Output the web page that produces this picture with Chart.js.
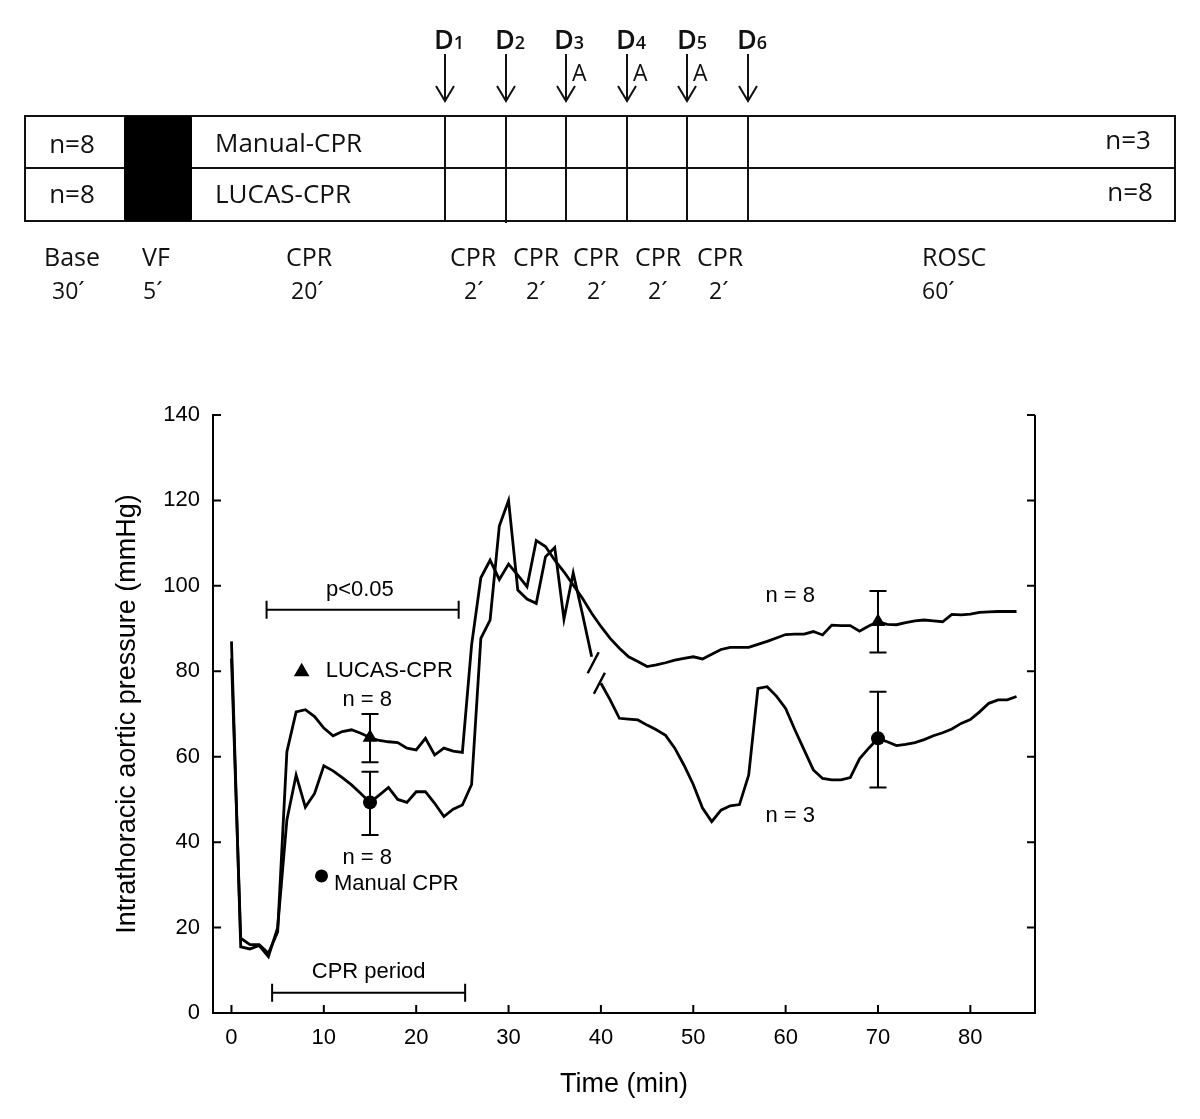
<!DOCTYPE html>
<html>
<head>
<meta charset="utf-8">
<title>Intrathoracic aortic pressure – Manual vs LUCAS CPR</title>
<script src="https://cdn.jsdelivr.net/npm/chart.js@4.4.1/dist/chart.umd.min.js"></script>
<style>
    html, body { margin: 0; padding: 0; background: #fff; }
    #wrap { position: relative; width: 1200px; height: 1119px; overflow: hidden; }
    #pressureChart { position: absolute; left: 0; top: 0; }
    #protocol { position: absolute; left: 0; top: 0; }
    #protocol text { font-family: 'Open Sans', 'Noto Sans', sans-serif; fill: #111; }
</style>
</head>
<body>
<div id="wrap">
    <canvas id="pressureChart" width="1200" height="1119"></canvas>

    <!-- study protocol schematic -->
    <svg id="protocol" width="1200" height="320" xmlns="http://www.w3.org/2000/svg">
        <g stroke="#111" stroke-width="2" fill="none">
            <rect x="25" y="116" width="1150" height="105"/>
            <line x1="25" y1="168" x2="1175" y2="168"/>
            <line x1="445" y1="116" x2="445" y2="221"/>
            <line x1="506" y1="116" x2="506" y2="223"/>
            <line x1="566" y1="116" x2="566" y2="221"/>
            <line x1="627" y1="116" x2="627" y2="221"/>
            <line x1="687" y1="116" x2="687" y2="221"/>
            <line x1="748" y1="116" x2="748" y2="221"/>
            <path d="M445 54 V101 M436 86 L445 101 L454 86"/>
            <path d="M506 54 V101 M497 86 L506 101 L515 86"/>
            <path d="M566 54 V101 M557 86 L566 101 L575 86"/>
            <path d="M627 54 V101 M618 86 L627 101 L636 86"/>
            <path d="M687 54 V101 M678 86 L687 101 L696 86"/>
            <path d="M748 54 V101 M739 86 L748 101 L757 86"/>
        </g>
        <rect x="124" y="116" width="68" height="105" rx="2" fill="#000"/>

        <g font-size="26">
            <text x="72" y="153" text-anchor="middle">n=8</text>
            <text x="72" y="203" text-anchor="middle">n=8</text>
            <text x="215" y="152">Manual-CPR</text>
            <text x="215" y="203">LUCAS-CPR</text>
            <text x="1151" y="149" text-anchor="end">n=3</text>
            <text x="1153" y="201" text-anchor="end">n=8</text>
        </g>

        <g font-size="27" font-weight="600">
            <text x="434" y="49">D<tspan font-size="18">1</tspan></text>
            <text x="495" y="49">D<tspan font-size="18">2</tspan></text>
            <text x="554" y="49">D<tspan font-size="18">3</tspan></text>
            <text x="616" y="49">D<tspan font-size="18">4</tspan></text>
            <text x="677" y="49">D<tspan font-size="18">5</tspan></text>
            <text x="737" y="49">D<tspan font-size="18">6</tspan></text>
        </g>
        <g font-size="23">
            <text x="572" y="81">A</text>
            <text x="633" y="81">A</text>
            <text x="693" y="81">A</text>
        </g>

        <g font-size="25">
            <text x="72" y="266" text-anchor="middle">Base</text>
            <text x="142" y="266">VF</text>
            <text x="309" y="266" text-anchor="middle">CPR</text>
            <text x="450" y="266">CPR</text>
            <text x="513" y="266">CPR</text>
            <text x="573" y="266">CPR</text>
            <text x="635" y="266">CPR</text>
            <text x="697" y="266">CPR</text>
            <text x="922" y="266">ROSC</text>
        </g>
        <g font-size="23">
            <text x="52" y="299">30´</text>
            <text x="143" y="299">5´</text>
            <text x="291" y="299">20´</text>
            <text x="464" y="299">2´</text>
            <text x="526" y="299">2´</text>
            <text x="587" y="299">2´</text>
            <text x="648" y="299">2´</text>
            <text x="709" y="299">2´</text>
            <text x="922" y="299">60´</text>
        </g>
    </svg>
</div>

<script>
// --- 1. DATA ---
const minutes = [
    0, 1, 2, 3, 4, 5, 6, 7, 8, 9, 10, 11, 12, 13, 14, 15, 16, 17, 18, 19,
    20, 21, 22, 23, 24, 25, 26, 27, 28, 29, 30, 31, 32, 33, 34, 35, 36, 37, 38, 39,
    40, 41, 42, 43, 44, 45, 46, 47, 48, 49, 50, 51, 52, 53, 54, 55, 56, 57, 58, 59,
    60, 61, 62, 63, 64, 65, 66, 67, 68, 69, 70, 71, 72, 73, 74, 75, 76, 77, 78, 79,
    80, 81, 82, 83, 84, 85
];

const lucasPressure = [
    83, 17.5, 16, 16, 14, 19, 61.2, 70.5, 71, 69.4, 66.7, 64.9, 65.9, 66.3, 65.5, 64.5, 63.8, 63.5, 63.3, 62,
    61.6, 64.3, 60.4, 62, 61.3, 61, 86.2, 101.9, 106, 101.5, 105.1, 102.5, 99.8, 110.6, 109.2, 106, 103.3, 100.2, 97.1, 93.6,
    90.5, 87.7, 85.4, 83.4, 82.3, 81.1, 81.5, 82, 82.6, 83, 83.4, 82.9, 84, 85.1, 85.6, 85.6, 85.6, 86.3, 87, 87.8,
    88.6, 88.7, 88.7, 89.3, 88.5, 90.8, 90.7, 90.7, 89.4, 90.6, 91.6, 91, 90.9, 91.4, 91.8, 92, 91.8, 91.6, 93.3, 93.2,
    93.4, 93.8, 93.9, 94, 94, 94
];

const manualPressure = [
    87, 15.5, 15, 15.8, 13.2, 20, 45.2, 55.7, 48.2, 51.4, 57.9, 56.7, 55.1, 53.4, 51.4, 49.3, 51, 52.8, 50, 49.3,
    51.8, 51.8, 49.1, 46, 47.7, 48.7, 53.5, 87.7, 92, 114, 120, 99, 96.9, 95.9, 106.8, 109, 92.2, 103, 93.4, 83.4,
    77.2, 73.3, 69, 68.8, 68.6, 67.4, 66.3, 65, 62, 58, 53.5, 48, 44.8, 47.5, 48.5, 48.8, 55.7, 76, 76.4, 74.2,
    71.3, 66.3, 61.6, 56.9, 54.9, 54.6, 54.6, 55.1, 59.5, 62, 64.3, 63.5, 62.6, 62.9, 63.3, 64, 64.9, 65.6, 66.5, 67.8,
    68.7, 70.5, 72.5, 73.3, 73.3, 74.1
];

// manual curve is interrupted between these two samples (axis break)
const manualBreakAfter = 39;

// mean +/- SD shown at two time points
const sampleTimes = [15, 70];
const lucasMean = [64.5, 91.6];
const lucasUpper = [70, 98.8];
const lucasLower = [58.7, 84.4];
const manualMean = [49.3, 64.3];
const manualUpper = [56.5, 75.2];
const manualLower = [41.7, 52.8];

const xTicks = [0, 10, 20, 30, 40, 50, 60, 70, 80];
const yTicks = [0, 20, 40, 60, 80, 100, 120, 140];

const FONT = '"Liberation Sans", Arial, Helvetica, sans-serif';

// --- 2. DRAWING HELPERS ---
function triangle(ctx, cx, cy, r) {
    ctx.beginPath();
    ctx.moveTo(cx, cy - r);
    ctx.lineTo(cx + r * 0.866, cy + r / 2);
    ctx.lineTo(cx - r * 0.866, cy + r / 2);
    ctx.closePath();
    ctx.fill();
}

function dot(ctx, cx, cy, r) {
    ctx.beginPath();
    ctx.arc(cx, cy, r, 0, Math.PI * 2);
    ctx.fill();
}

function bracket(ctx, x1, x2, y, cap) {
    ctx.beginPath();
    ctx.moveTo(x1, y); ctx.lineTo(x2, y);
    ctx.moveTo(x1, y - cap); ctx.lineTo(x1, y + cap);
    ctx.moveTo(x2, y - cap); ctx.lineTo(x2, y + cap);
    ctx.stroke();
}

// --- 3. DECORATION PLUGIN (inward ticks, error bars, labels) ---
const decorPlugin = {
    id: 'decor',
    afterDatasetsDraw(chart) {
        const { ctx, scales: { x, y } } = chart;
        ctx.save();
        ctx.strokeStyle = '#000';
        ctx.lineWidth = 2;

        // error bars
        const bars = [[lucasUpper, lucasLower], [manualUpper, manualLower]];
        bars.forEach(([hi, lo]) => {
            sampleTimes.forEach((t, i) => {
                const px = x.getPixelForValue(t);
                const top = y.getPixelForValue(hi[i]);
                const bot = y.getPixelForValue(lo[i]);
                ctx.beginPath();
                ctx.moveTo(px, top); ctx.lineTo(px, bot);
                ctx.moveTo(px - 8.5, top); ctx.lineTo(px + 8.5, top);
                ctx.moveTo(px - 8.5, bot); ctx.lineTo(px + 8.5, bot);
                ctx.stroke();
            });
        });

        // break marks on the manual curve
        const bx1 = x.getPixelForValue(minutes[manualBreakAfter]) + 1.5;
        const by1 = y.getPixelForValue(manualPressure[manualBreakAfter]) + 6;
        const bx2 = x.getPixelForValue(minutes[manualBreakAfter + 1]) - 1.5;
        const by2 = y.getPixelForValue(manualPressure[manualBreakAfter + 1]);
        ctx.lineWidth = 2.5;
        [[bx1, by1], [bx2, by2]].forEach(([cx, cy]) => {
            ctx.beginPath();
            ctx.moveTo(cx - 5.5, cy + 10.5);
            ctx.lineTo(cx + 5.5, cy - 10.5);
            ctx.stroke();
        });
        ctx.restore();
    },
    afterDraw(chart) {
        const { ctx, chartArea: area, scales: { x, y } } = chart;
        ctx.save();
        ctx.strokeStyle = '#000';
        ctx.fillStyle = '#000';
        ctx.lineWidth = 2;

        // right frame line + inward ticks on all three axes
        ctx.beginPath();
        ctx.moveTo(area.right, area.top);
        ctx.lineTo(area.right, area.bottom + 1);
        xTicks.forEach(v => {
            const px = x.getPixelForValue(v);
            ctx.moveTo(px, area.bottom);
            ctx.lineTo(px, area.bottom - 8);
        });
        yTicks.forEach(v => {
            const py = y.getPixelForValue(v);
            ctx.moveTo(area.left, py);
            ctx.lineTo(area.left + 8, py);
            ctx.moveTo(area.right, py);
            ctx.lineTo(area.right - 8, py);
        });
        ctx.stroke();

        // brackets
        bracket(ctx, x.getPixelForValue(3.8), x.getPixelForValue(24.6), y.getPixelForValue(94.4), 9);
        bracket(ctx, x.getPixelForValue(4.4), x.getPixelForValue(25.3), y.getPixelForValue(4.75), 9);

        // legend glyphs
        triangle(ctx, x.getPixelForValue(7.6), y.getPixelForValue(79.9), 9);
        dot(ctx, x.getPixelForValue(9.75), y.getPixelForValue(32.1), 6.5);

        // texts
        ctx.font = '22px ' + FONT;
        ctx.textBaseline = 'middle';
        ctx.textAlign = 'center';
        const centered = [
            ['p<0.05', 13.9, 99.1],
            ['n = 8', 14.7, 73.2],
            ['n = 8', 14.7, 36.4],
            ['CPR period', 14.85, 9.5],
            ['n = 8', 60.5, 97.6],
            ['n = 3', 60.5, 46.1]
        ];
        centered.forEach(([txt, t, v]) => ctx.fillText(txt, x.getPixelForValue(t), y.getPixelForValue(v)));

        ctx.textAlign = 'left';
        ctx.fillText('LUCAS-CPR', x.getPixelForValue(10.2), y.getPixelForValue(80.1));
        ctx.fillText('Manual CPR', x.getPixelForValue(11.1), y.getPixelForValue(30.2));
        ctx.restore();
    }
};

// --- 4. CHART INITIALIZATION ---
const ctx = document.getElementById('pressureChart').getContext('2d');

const lucasData = minutes.map((t, i) => ({ x: t, y: lucasPressure[i] }));
const manualData = minutes.map((t, i) => ({ x: t, y: manualPressure[i] }));

const chart = new Chart(ctx, {
    type: 'line',
    data: {
        datasets: [
            {
                label: 'LUCAS-CPR mean',
                data: sampleTimes.map((t, i) => ({ x: t, y: lucasMean[i] })),
                showLine: false,
                pointStyle: 'triangle',
                pointRadius: 8.5,
                backgroundColor: '#000',
                borderColor: '#000',
                borderWidth: 0,
                order: 0
            },
            {
                label: 'Manual CPR mean',
                data: sampleTimes.map((t, i) => ({ x: t, y: manualMean[i] })),
                showLine: false,
                pointStyle: 'circle',
                pointRadius: 7,
                backgroundColor: '#000',
                borderColor: '#000',
                borderWidth: 0,
                order: 0
            },
            {
                label: 'LUCAS-CPR',
                data: lucasData,
                borderColor: '#000',
                borderWidth: 2.8,
                pointRadius: 0,
                tension: 0,
                fill: false,
                order: 1
            },
            {
                label: 'Manual CPR',
                data: manualData,
                borderColor: '#000',
                borderWidth: 2.8,
                pointRadius: 0,
                tension: 0,
                fill: false,
                order: 1,
                segment: {
                    borderColor: c => (c.p0.parsed.x === minutes[manualBreakAfter] ? 'rgba(0,0,0,0)' : '#000')
                }
            }
        ]
    },
    options: {
        responsive: false,
        animation: false,
        layout: { padding: { top: 415, right: 165, bottom: 0, left: 0 }, autoPadding: false },
        scales: {
            x: {
                type: 'linear',
                min: -2,
                max: 87,
                afterBuildTicks: s => { s.ticks = xTicks.map(v => ({ value: v })); },
                afterFit: s => { s.height = 106; },
                grid: { display: false, drawTicks: false },
                border: { display: true, color: '#000', width: 2 },
                ticks: { padding: 12, color: '#000', maxRotation: 0, autoSkip: false, font: { family: FONT, size: 22 } },
                title: { display: true, text: 'Time (min)', color: '#000', font: { family: FONT, size: 27 }, padding: { top: 0, bottom: 18 } }
            },
            y: {
                min: 0,
                max: 140,
                afterBuildTicks: s => { s.ticks = yTicks.map(v => ({ value: v })); },
                afterFit: s => { s.width = 213; },
                grid: { display: false, drawTicks: false },
                border: { display: true, color: '#000', width: 2 },
                ticks: { padding: 13, color: '#000', font: { family: FONT, size: 22 } },
                title: { display: true, text: 'Intrathoracic aortic pressure (mmHg)', color: '#000', font: { family: FONT, size: 27 }, padding: { top: 111, bottom: 0 } }
            }
        },
        plugins: { legend: { display: false }, tooltip: { enabled: false } }
    },
    plugins: [decorPlugin]
});
</script>
</body>
</html>
